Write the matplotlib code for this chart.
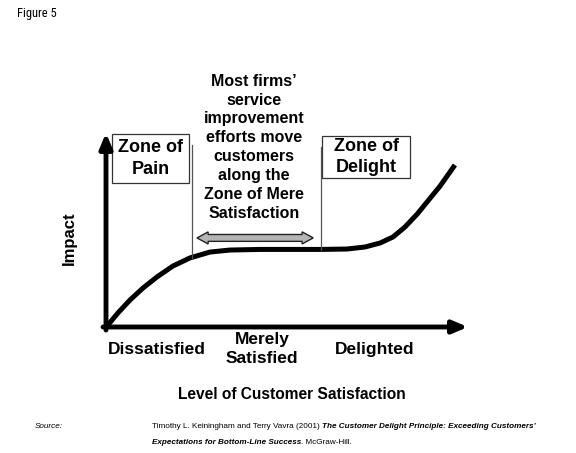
import matplotlib
matplotlib.use('Agg')
import matplotlib.pyplot as plt
from matplotlib.patches import Rectangle, Polygon

plt.rcParams['font.family'] = ['Liberation Sans', 'DejaVu Sans']

# curve of impact against satisfaction (0-100 scale)
satisfaction = [0.3, 3.2, 6.5, 10.0, 13.8, 18.1, 22.7, 28.1, 33.5, 41.6, 57.8,
                65.1, 70.0, 74.1, 77.6, 80.8, 84.1, 87.0, 90.3, 94.3]
impact = [0.5, 6.9, 13.4, 19.3, 24.8, 30.2, 34.2, 37.1, 38.1, 38.4, 38.4,
          38.6, 39.6, 41.6, 44.6, 49.5, 55.9, 62.4, 69.8, 80.2]

# zone boundaries (x) and where their guide lines stop (y top, y bottom)
zone_edges = [23.2, 58.1]
edge_top = [90.0, 89.0]
edge_bottom = [34.2, 38.1]

# zone boxes: (x0, x1, y0, y1)
zone_names = ['Zone of\nPain', 'Zone of\nDelight']
zone_boxes = [(1.6, 22.4, 71.3, 95.5), (58.4, 82.2, 73.8, 94.6)]

# arrow of the mere-satisfaction zone
move_from, move_to, move_level = 24.6, 56.0, 44.1

x_labels = ['Dissatisfied', 'Merely\nSatisfied', 'Delighted']
x_label_pos = [13.8, 42.2, 72.7]

W, H = 576, 453
fig = plt.figure(figsize=(W / 100, H / 100), dpi=100)
ax = fig.add_axes([106 / W, (H - 327) / H, 370 / W, 202 / H])
ax.set_xlim(0, 100)
ax.set_ylim(0, 100)
ax.axis('off')

# axes arrows
arrow = dict(arrowstyle='-|>,head_length=0.4,head_width=0.17', lw=3.5,
             color='black', shrinkA=0, shrinkB=0, mutation_scale=22)
ax.annotate('', xy=(97.8, 0), xytext=(-0.8, 0), arrowprops=arrow,
            annotation_clip=False)
ax.annotate('', xy=(0, 96), xytext=(0, -1.5), arrowprops=arrow,
            annotation_clip=False)

# main curve
ax.plot(satisfaction, impact, color='black', lw=3.6, solid_capstyle='butt',
        solid_joinstyle='round', clip_on=False)

# zone guide lines
for x, top, bot in zip(zone_edges, edge_top, edge_bottom):
    ax.plot([x, x], [bot, top], color='#555555', lw=0.9, clip_on=False)

# zone boxes
for name, (x0, x1, y0, y1) in zip(zone_names, zone_boxes):
    ax.add_patch(Rectangle((x0, y0), x1 - x0, y1 - y0, fill=True, fc='white',
                           ec='#333333', lw=0.9, clip_on=False))
    ax.text((x0 + x1) / 2, (y0 + y1) / 2, name, ha='center', va='center',
            fontsize=13, fontweight='bold', linespacing=1.35)

# double-headed block arrow
hl, hh, sh = 3.0, 3.0, 1.7
verts = [(move_from, move_level), (move_from + hl, move_level + hh),
         (move_from + hl, move_level + sh), (move_to - hl, move_level + sh),
         (move_to - hl, move_level + hh), (move_to, move_level),
         (move_to - hl, move_level - hh), (move_to - hl, move_level - sh),
         (move_from + hl, move_level - sh), (move_from + hl, move_level - hh)]
ax.add_patch(Polygon(verts, closed=True, fc='#b4b4b4', ec='#222222', lw=1.0,
                     clip_on=False))

ax.text(40.0, 89.0, "Most firms’\nservice\nimprovement\nefforts move\ncustomers\n"
        "along the\nZone of Mere\nSatisfaction", ha='center', va='center',
        fontsize=11.5, fontweight='bold', linespacing=1.32)

for lab, x in zip(x_labels, x_label_pos):
    ax.text(x, -11.0, lab, ha='center', va='center', fontsize=12.5,
            fontweight='bold', linespacing=1.3)

ax.text(-10.0, 44.1, 'Impact', rotation=90, ha='center', va='center',
        fontsize=12, fontweight='bold')
ax.text(50.3, -33.2, 'Level of Customer Satisfaction', ha='center',
        va='center', fontsize=11.2, fontweight='bold')


def px(x, y):
    return x / W, 1 - y / H


fig.text(*px(17, 14), 'Figure 5', ha='left', va='center', fontsize=9,
         family=['Roboto Condensed', 'Liberation Sans'])

fs = 5.9
fig.text(*px(35, 427), 'Source:', ha='left', va='center', fontsize=fs,
         style='italic')
t1 = fig.text(*px(152, 427), 'Timothy L. Keiningham and Terry Vavra (2001) ',
              ha='left', va='center', fontsize=fs)
ax.annotate('The Customer Delight Principle: Exceeding Customers’',
            xy=(1, 0), xycoords=t1, ha='left', va='bottom', fontsize=fs,
            fontweight='bold', style='italic', annotation_clip=False)
t2 = fig.text(*px(152, 442), 'Expectations for Bottom-Line Success',
              ha='left', va='center', fontsize=fs, fontweight='bold',
              style='italic')
ax.annotate('. McGraw-Hill.', xy=(1, 0), xycoords=t2, ha='left',
            va='bottom', fontsize=fs, annotation_clip=False)

fig.savefig('out.png', dpi=100)
